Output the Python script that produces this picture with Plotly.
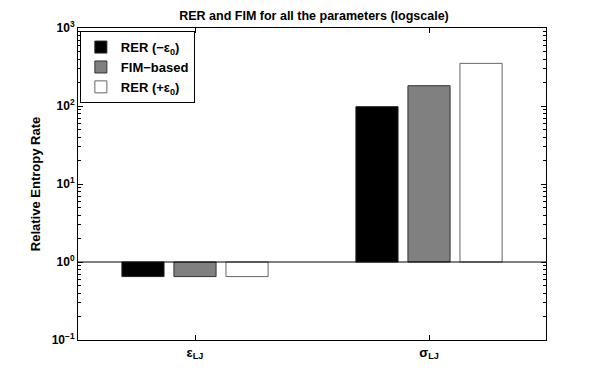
import plotly.graph_objects as go

# ---- data ----
categories = ["ε<sub>LJ</sub>", "σ<sub>LJ</sub>"]
cat_pos = [1, 2]
rer_minus = [0.65, 98]
fim_based = [0.65, 182]
rer_plus = [0.65, 352]
series_names = ["RER (−ε<sub>0</sub>)", "FIM−based", "RER (+ε<sub>0</sub>)"]
baseline = 1.0
ytick_vals = [0.1, 1, 10, 100, 1000]
ytick_text = ["10<sup>−1</sup>", "10<sup>0</sup>", "10<sup>1</sup>", "10<sup>2</sup>", "10<sup>3</sup>"]
yminor_vals = [m * d for d in (0.1, 1, 10, 100) for m in range(2, 10)]

colors = ["#000000", "#808080", "#ffffff"]
edge_colors = ["#222222", "#333333", "#666666"]
FONT = "Liberation Sans, Arial, Helvetica, sans-serif"

fig = go.Figure()
for name, vals, col, ec in zip(series_names, [rer_minus, fim_based, rer_plus], colors, edge_colors):
    fig.add_trace(go.Bar(
        x=cat_pos,
        y=[v - baseline for v in vals],
        base=baseline,
        name=name,
        marker=dict(color=col, line=dict(color=ec, width=1)),
    ))

# baseline at 10^0
fig.add_trace(go.Scatter(x=[0.5, 2.5], y=[baseline, baseline], mode="lines",
                         line=dict(color="black", width=1), showlegend=False,
                         hoverinfo="skip"))

fig.update_layout(
    width=603, height=383,
    margin=dict(l=70, r=65, t=20, b=51, autoexpand=False),
    paper_bgcolor="white", plot_bgcolor="white",
    barmode="group", bargap=0.333, bargroupgap=0.19,
    title=dict(text="RER and FIM for all the parameters (logscale)",
               x=0.5075, xanchor="center", y=0.979, yanchor="middle",
               font=dict(family=FONT, size=12.5, color="black", weight="bold")),
    font=dict(family=FONT, color="black"),
    legend=dict(x=0.004, y=0.99, xanchor="left", yanchor="top",
                bgcolor="white", bordercolor="black", borderwidth=1,
                font=dict(family=FONT, size=13, color="black", weight="bold"),
                tracegroupgap=0, itemwidth=30),
    showlegend=True,
)

fig.update_xaxes(
    range=[0.5, 2.5], tickvals=cat_pos, ticktext=categories,
    showgrid=False, zeroline=False, automargin=False,
    showline=True, linecolor="black", linewidth=1, mirror="ticks",
    ticks="inside", ticklen=5, tickcolor="black",
    tickfont=dict(family=FONT, size=13, color="black", weight="bold"),
)
fig.update_yaxes(
    type="log", range=[-1, 3],
    tickvals=ytick_vals, ticktext=ytick_text,
    showgrid=False, zeroline=False, automargin=False,
    showline=True, linecolor="black", linewidth=1, mirror="ticks",
    ticks="inside", ticklen=5, tickcolor="black",
    minor=dict(tickvals=yminor_vals, ticks="inside", ticklen=3,
               tickcolor="black", showgrid=False),
    tickfont=dict(family=FONT, size=12, color="black", weight="bold"),
    title=dict(text="Relative Entropy Rate", standoff=8,
               font=dict(family=FONT, size=13, color="black", weight="bold")),
)

fig.write_html("out.html")
